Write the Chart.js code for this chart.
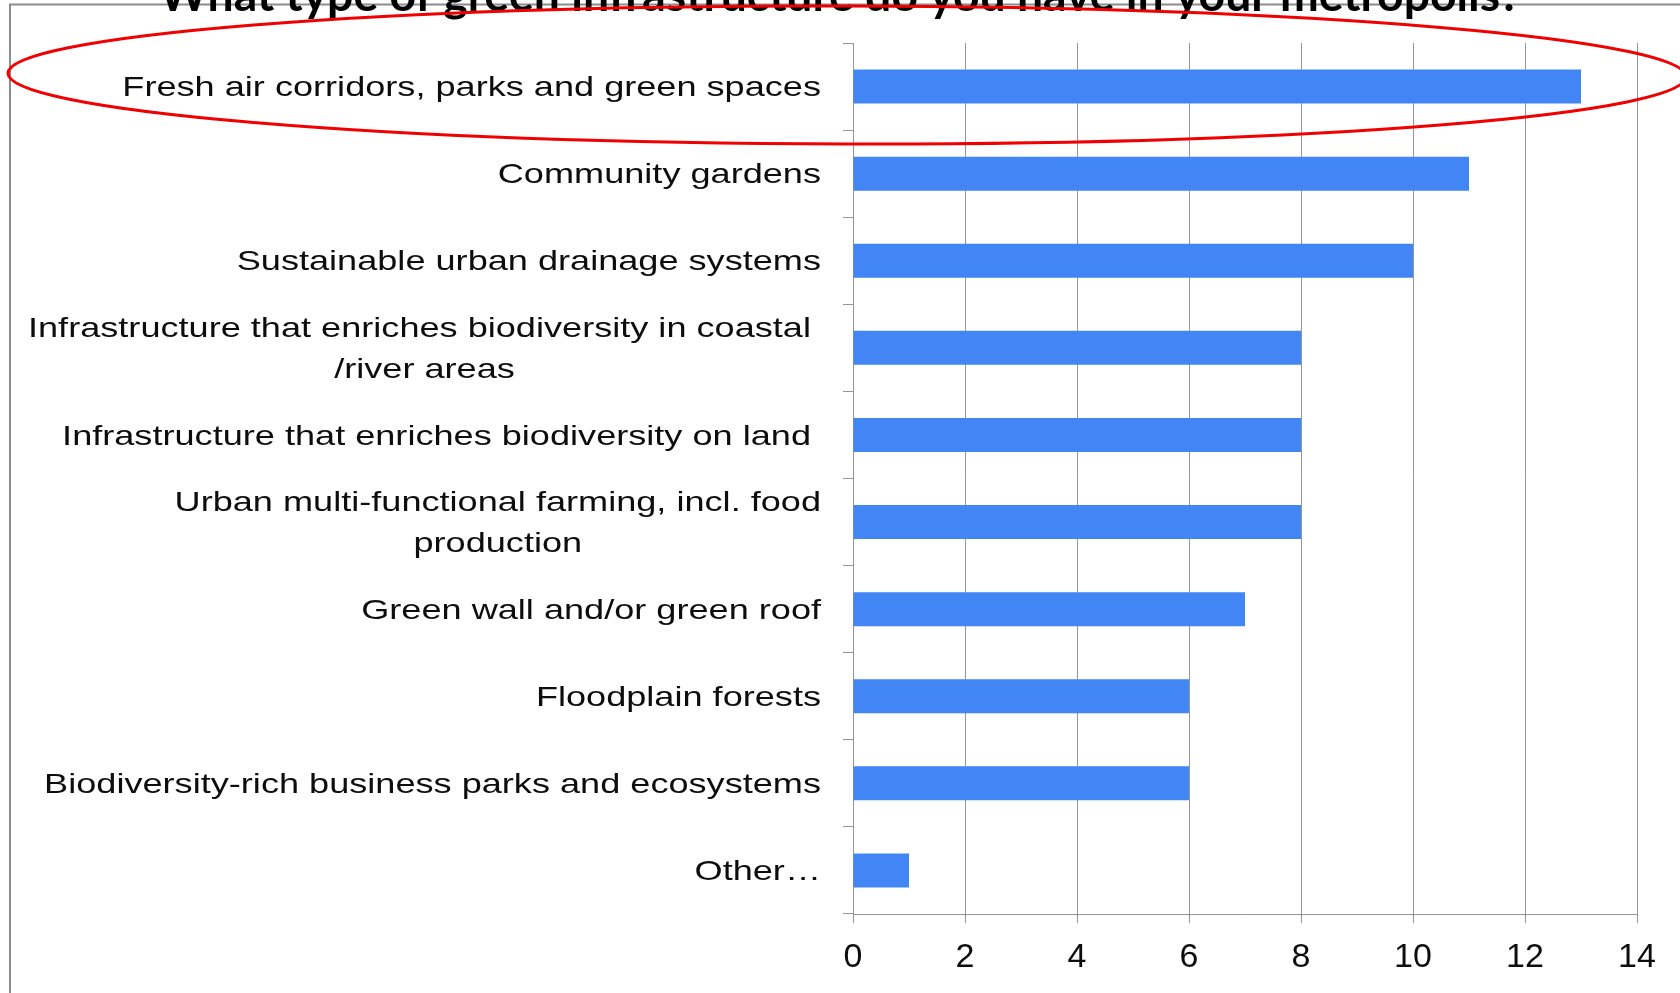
<!DOCTYPE html>
<html><head><meta charset="utf-8">
<script src="https://cdn.jsdelivr.net/npm/chart.js@4.4.0/dist/chart.umd.min.js"></script>
<style>html,body{margin:0;padding:0;background:#fff;overflow:hidden}#wrap{position:relative;width:1680px;height:993px}</style>
</head><body><div id="wrap"><canvas id="c" width="1680" height="993"></canvas></div>
<script>
const TITLE = 'What type of green infrastructure do you have in your metropolis?';
const categories = [
  ['Fresh air corridors, parks and green spaces'],
  ['Community gardens'],
  ['Sustainable urban drainage systems'],
  ['Infrastructure that enriches biodiversity in coastal ', '/river areas'],
  ['Infrastructure that enriches biodiversity on land '],
  ['Urban multi-functional farming, incl. food', 'production'],
  ['Green wall and/or green roof'],
  ['Floodplain forests'],
  ['Biodiversity-rich business parks and ecosystems'],
  ['Other…']
];
const counts = [13, 11, 10, 8, 8, 8, 7, 6, 6, 1];
const xTicks = [0, 2, 4, 6, 8, 10, 12, 14];

const GRID = '#959595';
const LABEL_FONT = '28px "Liberation Sans", Arial, sans-serif';
const LABEL_STRETCH = 1.29;
const TITLE_FONT_FAMILY = 'Lato, "Open Sans", sans-serif';

const deco = {
  id: 'deco',
  beforeDraw(chart) {
    const ctx = chart.ctx;
    ctx.save();
    ctx.fillStyle = '#fff';
    ctx.fillRect(0, 0, chart.width, chart.height);
    ctx.strokeStyle = '#8c8c8c';
    ctx.lineWidth = 2;
    ctx.beginPath();
    ctx.moveTo(10, chart.height);
    ctx.lineTo(10, 4.5);
    ctx.lineTo(chart.width, 4.5);
    ctx.stroke();
    ctx.restore();
  },
  afterDraw(chart) {
    const ctx = chart.ctx;
    const ys = chart.scales.y;
    // category labels (right-aligned block, lines centred within block)
    ctx.save();
    ctx.font = LABEL_FONT;
    ctx.fillStyle = '#0d0d0d';
    ctx.textBaseline = 'middle';
    ctx.textAlign = 'center';
    const rightX = chart.chartArea.left - 32;
    const lh = 41;
    categories.forEach((lines, i) => {
      const cy = ys.getPixelForValue(i) + 2;
      const w = Math.max(...lines.map(l => ctx.measureText(l).width)) * LABEL_STRETCH;
      const cx = rightX - w / 2;
      lines.forEach((l, j) => {
        ctx.save();
        ctx.translate(cx, cy + (j - (lines.length - 1) / 2) * lh);
        ctx.scale(LABEL_STRETCH, 1);
        ctx.fillText(l, 0, 0);
        ctx.restore();
      });
    });
    ctx.restore();
    // title (clipped at top)
    ctx.save();
    ctx.font = 'bold 40px ' + TITLE_FONT_FAMILY;
    const tw = ctx.measureText(TITLE).width;
    const size = 40 * 1362 / tw;
    ctx.font = 'bold ' + size.toFixed(2) + 'px ' + TITLE_FONT_FAMILY;
    ctx.fillStyle = '#000';
    ctx.textAlign = 'center';
    ctx.textBaseline = 'alphabetic';
    ctx.fillText(TITLE, 840, 11);
    ctx.restore();
    // red highlight ellipse
    ctx.save();
    ctx.strokeStyle = '#f00000';
    ctx.lineWidth = 3;
    ctx.beginPath();
    ctx.ellipse(847, 75, 839, 69, 0.002, 0, Math.PI * 2);
    ctx.stroke();
    ctx.restore();
  }
};

new Chart(document.getElementById('c'), {
  type: 'bar',
  data: {
    labels: categories,
    datasets: [{
      data: counts,
      backgroundColor: '#4285f4',
      borderWidth: 0,
      categoryPercentage: 1,
      barPercentage: 0.39
    }]
  },
  options: {
    indexAxis: 'y',
    responsive: false,
    animation: false,
    devicePixelRatio: 1,
    layout: { padding: { top: 43, left: 0, right: 43, bottom: 0 } },
    plugins: { legend: { display: false }, tooltip: { enabled: false }, title: { display: false } },
    scales: {
      x: {
        type: 'linear',
        min: 0, max: 14,
        afterBuildTicks: s => { s.ticks = xTicks.map(v => ({ value: v })); },
        afterFit: s => { s.height = 79; },
        ticks: {
          color: '#0d0d0d',
          font: { family: '"Liberation Sans", Arial, sans-serif', size: 34 },
          padding: 14,
          maxRotation: 0
        },
        grid: { color: GRID, lineWidth: 1, tickLength: 9, drawTicks: true },
        border: { color: GRID, width: 1 }
      },
      y: {
        type: 'category',
        afterFit: s => { s.width = 853; },
        ticks: { display: false },
        grid: { drawOnChartArea: false, drawTicks: true, tickLength: 10, color: GRID, offset: true },
        border: { color: GRID, width: 1 }
      }
    }
  },
  plugins: [deco]
});
</script>
</body></html>
